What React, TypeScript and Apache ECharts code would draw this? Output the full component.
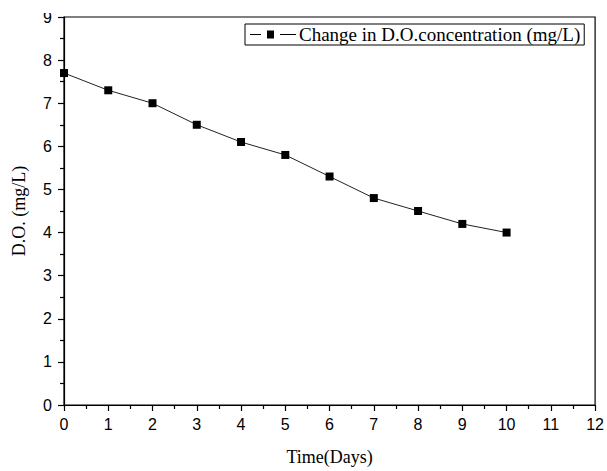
import React, { useEffect, useRef } from "react";
import * as echarts from "echarts";

const days = [0, 1, 2, 3, 4, 5, 6, 7, 8, 9, 10];
const doValues = [7.7, 7.3, 7.0, 6.5, 6.1, 5.8, 5.3, 4.8, 4.5, 4.2, 4.0];
const seriesName = "Change in D.O.concentration (mg/L)";
const xTitle = "Time(Days)";
const yTitle = "D.O. (mg/L)";

const legendIcon =
  "path://M0 3.5H11V4.5H0Z M17 0H24V8H17Z M30 3.5H46V4.5H30Z";

export default function App() {
  const ref = useRef<HTMLDivElement>(null);
  useEffect(() => {
    if (!ref.current) return;
    const chart = echarts.init(ref.current, undefined, { renderer: "svg" });
    const sans = "'Liberation Sans', Arial, sans-serif";
    const serif = "'Liberation Serif', 'Times New Roman', serif";
    chart.setOption({
      animation: false,
      backgroundColor: "#fff",
      grid: {
        left: 64,
        right: 7,
        top: 17,
        bottom: 61,
        show: true,
        borderColor: "#000",
        borderWidth: 1.2,
        backgroundColor: "transparent",
      },
      graphic: [
        {
          type: "rect",
          left: 38,
          top: 0,
          z: 100,
          silent: true,
          shape: { width: 24, height: 13 },
          style: { fill: "#fff" },
        },
      ],
      legend: {
        left: 245,
        top: 24,
        data: [{ name: seriesName, icon: legendIcon }],
        borderColor: "#000",
        borderWidth: 1,
        padding: [1, 4, 1, 5],
        itemWidth: 46,
        itemHeight: 8,
        itemGap: 4,
        textStyle: { fontFamily: serif, fontSize: 19, color: "#000", padding: [0, 0, 0, -2] },
      },
      xAxis: {
        type: "value",
        min: 0,
        max: 12,
        interval: 1,
        name: xTitle,
        nameLocation: "middle",
        nameGap: 43,
        nameTextStyle: { fontFamily: serif, fontSize: 18, color: "#000" },
        axisLine: { show: true, lineStyle: { color: "#000", width: 1.2 } },
        axisTick: { show: true, inside: false, length: 6, lineStyle: { color: "#000", width: 1.2 } },
        minorTick: { show: true, splitNumber: 2, length: 4, lineStyle: { color: "#000", width: 1.2 } },
        splitLine: { show: false },
        axisLabel: { fontFamily: sans, fontSize: 16, color: "#000", margin: 11 },
      },
      yAxis: {
        type: "value",
        min: 0,
        max: 9,
        interval: 1,
        name: yTitle,
        nameLocation: "middle",
        nameGap: 36,
        nameTextStyle: { fontFamily: serif, fontSize: 18, color: "#000" },
        axisLine: { show: true, lineStyle: { color: "#000", width: 1.2 } },
        axisTick: { show: true, inside: false, length: 6, lineStyle: { color: "#000", width: 1.2 } },
        minorTick: { show: true, splitNumber: 2, length: 4, lineStyle: { color: "#000", width: 1.2 } },
        splitLine: { show: false },
        axisLabel: { fontFamily: sans, fontSize: 16, color: "#000", margin: 12 },
      },
      series: [
        {
          name: seriesName,
          type: "line",
          data: days.map((d, i) => [d, doValues[i]]),
          symbol: "rect",
          symbolSize: 8,
          itemStyle: { color: "#000" },
          lineStyle: { color: "#222", width: 1 },
        },
      ],
    });
    return () => chart.dispose();
  }, []);
  return (
    <div
      ref={ref}
      style={{ position: "fixed", left: 0, top: 0, width: 607, height: 471, background: "#fff" }}
    />
  );
}
